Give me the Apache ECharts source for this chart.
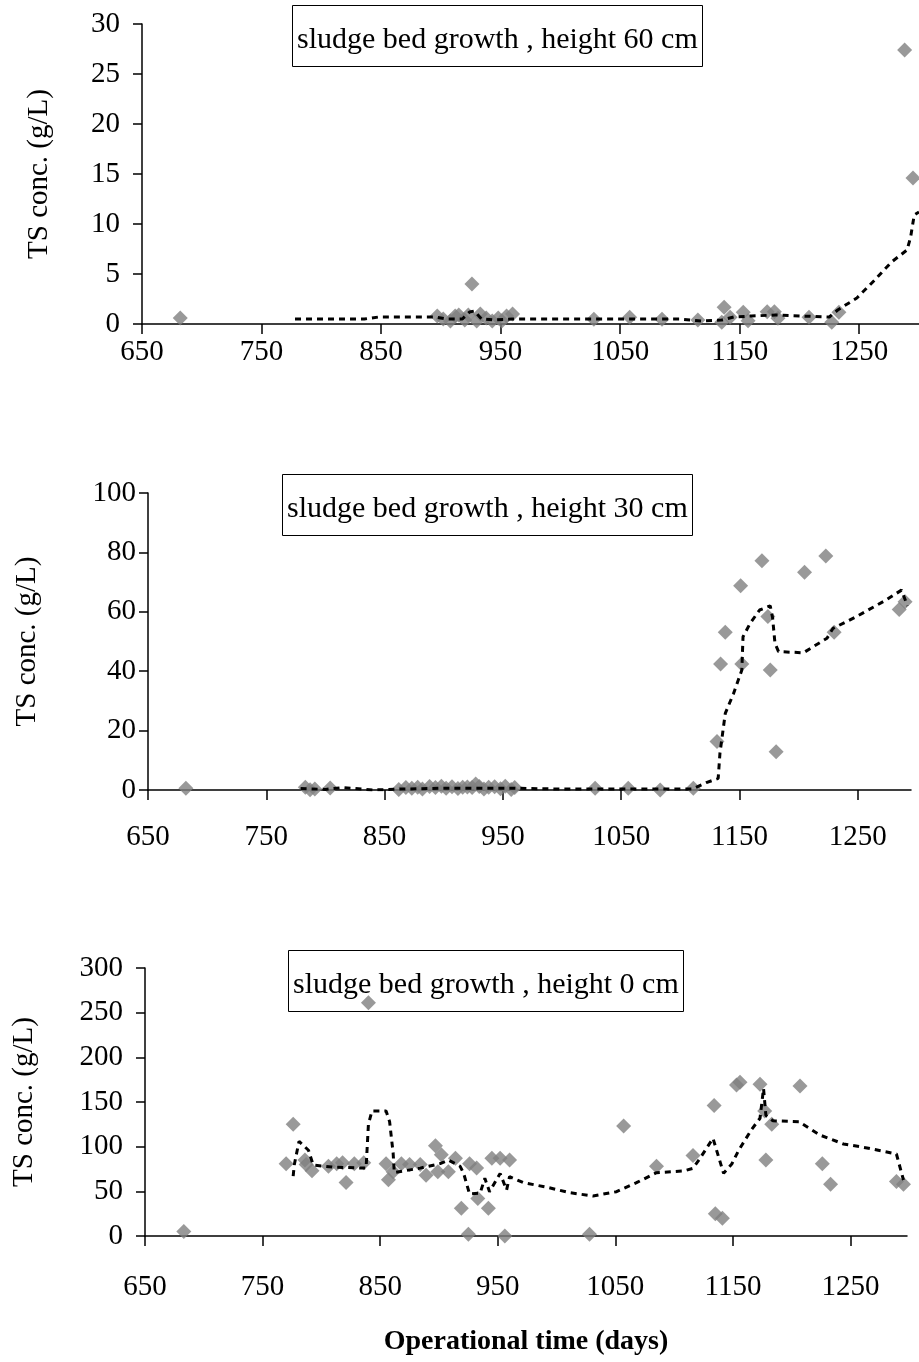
<!DOCTYPE html>
<html>
<head>
<meta charset="utf-8">
<script src="https://cdn.jsdelivr.net/npm/echarts@6/dist/echarts.min.js"></script>
<style>
  html, body { margin: 0; padding: 0; background: #fff; }
  #chart { width: 919px; height: 1362px; }
</style>
</head>
<body>
<div id="chart"></div>
<script>
// tick labels shared by the three panels
var xTicks = [650, 750, 850, 950, 1050, 1150, 1250];

// height 60 cm
var days60 = [682, 897, 902, 908, 912, 915, 920, 923, 926, 930, 933, 938, 943, 948, 951, 955, 960, 1028, 1058, 1085,
  1115, 1135, 1137, 1142, 1153, 1157, 1173, 1179, 1182, 1208, 1227, 1233, 1288, 1295];
var ts60 = [0.6, 0.8, 0.5, 0.3, 0.8, 0.9, 0.4, 0.9, 4.0, 0.3, 1.0, 0.6, 0.3, 0.6, 0.3, 0.8, 1.0, 0.47, 0.67, 0.47,
  0.4, 0.17, 1.67, 0.67, 1.17, 0.33, 1.23, 1.23, 0.57, 0.67, 0.17, 1.17, 27.4, 14.6];
var trendDays60 = [778, 836, 848, 895, 905, 918, 924, 928, 934, 945, 960, 1100, 1118, 1135, 1145, 1160, 1180, 1200,
  1225, 1232, 1248, 1263, 1277, 1290, 1293, 1296, 1300];
var trend60 = [0.5, 0.5, 0.7, 0.7, 0.5, 0.5, 1.2, 1.3, 0.5, 0.4, 0.5, 0.5, 0.3, 0.4, 0.7, 0.8, 0.9, 0.8,
  0.7, 1.4, 2.6, 4.4, 6.2, 7.4, 8.7, 10.9, 11.2];

// height 30 cm
var days30 = [682, 783, 787, 791, 804, 862, 868, 873, 878, 882, 888, 893, 898, 902, 907, 912, 916, 920, 924, 927,
  930, 934, 938, 943, 948, 952, 957, 960, 1028, 1056, 1083, 1111, 1131, 1134, 1138, 1151, 1152, 1169, 1174, 1176,
  1181, 1205, 1223, 1230, 1285, 1290];
var ts30 = [0.6, 0.9, 0.1, 0.3, 0.7, 0.2, 0.8, 0.6, 0.9, 0.3, 1.2, 0.8, 1.3, 0.6, 1.1, 0.5, 0.9, 1.0, 0.8, 2.0,
  1.2, 0.3, 0.9, 1.1, 0.4, 1.3, 0.2, 0.8, 0.6, 0.6, 0.0, 0.6, 16.3, 42.4, 53.1, 68.8, 42.4, 77.2, 58.4, 40.4,
  12.9, 73.3, 78.8, 53.1, 60.8, 63.4];
var trendDays30 = [779, 800, 815, 840, 862, 900, 960, 1000, 1110, 1122, 1132, 1133.5, 1138, 1145, 1152, 1153, 1159,
  1167, 1176, 1178, 1180, 1183, 1204, 1224, 1229, 1249, 1274, 1287, 1292];
var trend30 = [0.5, 0.2, 0.8, 0, 0.3, 0.6, 0.6, 0.3, 0.3, 2.5, 3.9, 12.4, 25.8, 32.5, 40.4, 51.6, 56.1,
  60.6, 62, 58, 49.4, 46.6, 46.2, 51.1, 54.4, 58.4, 64, 67.3, 62];

// height 0 cm
var days0 = [683, 770, 776, 786, 787, 792, 806, 813, 818, 821, 828, 836, 840, 855, 857, 861, 868, 875, 884, 889,
  897, 899, 902, 908, 914, 919, 925, 926, 932, 933, 942, 945, 952, 956, 960, 1028, 1057, 1085, 1116, 1134,
  1135, 1141, 1153, 1156, 1173, 1177, 1178, 1183, 1207, 1226, 1233, 1289, 1295];
var ts0 = [5, 81, 125, 85, 80, 73, 78, 81, 82, 60, 81, 82, 261, 81, 63, 72, 81, 80, 80, 68,
  101, 72, 91, 72, 87, 31, 2, 81, 76, 42, 31, 87, 87, 0, 85, 2, 123, 78, 90, 146,
  25, 20, 169, 172, 170, 140, 85, 125, 168, 81, 58, 61, 58];
var trendDays0 = [776, 777, 781, 789, 793, 810, 838, 840, 843, 855, 858, 861, 862, 884, 901, 908, 918, 921, 926, 935,
  939, 943, 952, 957.5, 960, 972, 992, 1011, 1031, 1051, 1068, 1085, 1108, 1116, 1122, 1133, 1142, 1149, 1155, 1166,
  1173, 1176, 1177, 1178, 1184, 1206, 1224, 1244, 1264, 1289, 1295];
var trend0 = [67, 80, 106, 96, 79.5, 77, 76, 125, 140, 140, 128, 93, 71, 76, 81, 85, 78, 70, 47, 48,
  64.6, 49.5, 70, 51.5, 66.4, 59.7, 54.5, 48.5, 44.8, 49.6, 59.7, 70.9, 72.8, 75.8, 87, 109.4, 70.2, 80.6, 96.3, 119.5,
  131.8, 165, 165, 135, 129, 128, 113, 103, 98.6, 91.8, 62.7];

var panelTitles = ['sludge bed growth , height 60 cm', 'sludge bed growth , height 30 cm', 'sludge bed growth , height 0 cm'];
var yMax = [30, 100, 300];
var yStep = [5, 20, 50];

var serif = 'Liberation Serif';

function zip(xs, ys) {
  return xs.map(function (x, i) { return [x, ys[i]]; });
}

var dom = document.getElementById('chart');
var myChart = echarts.init(dom, null, { renderer: 'canvas' });

// layout of each panel
var panels = [
  { left: 142, top: 24, width: 780, height: 300, xMax: 1300, labelMargin: 14, yMargin: 22, nameGap: 88, box: [292, 5] },
  { left: 148, top: 493, width: 763, height: 297, xMax: 1295, labelMargin: 33, yMargin: 12, nameGap: 106, box: [282, 474] },
  { left: 145, top: 968, width: 762, height: 268, xMax: 1298, labelMargin: 37, yMargin: 22, nameGap: 106, box: [288, 950] }
];

var option = {
  backgroundColor: '#fff',
  animation: false,
  title: [],
  grid: [],
  xAxis: [],
  yAxis: [],
  series: []
};

var scatterSets = [zip(days60, ts60), zip(days30, ts30), zip(days0, ts0)];
var trendSets = [zip(trendDays60, trend60), zip(trendDays30, trend30), zip(trendDays0, trend0)];

function plain(v) {
  return String(v);
}

panels.forEach(function (p, i) {
  option.title.push({
    text: panelTitles[i],
    left: p.box[0],
    top: p.box[1],
    borderColor: '#000',
    borderWidth: 1,
    padding: [20, 5, 12, 5],
    textStyle: { fontFamily: serif, fontSize: 30, fontWeight: 'normal', color: '#000', lineHeight: 30 }
  });
  option.grid.push({ left: p.left, top: p.top, width: p.width, height: p.height });
  option.xAxis.push({
    type: 'value',
    gridIndex: i,
    min: 650,
    max: p.xMax,
    axisLine: { onZero: false, lineStyle: { color: '#000', width: 1.5 } },
    axisTick: { length: 10, lineStyle: { color: '#000', width: 1.5 }, customValues: xTicks },
    axisLabel: { customValues: xTicks, formatter: plain, margin: p.labelMargin, fontFamily: serif, fontSize: 29, color: '#000' },
    splitLine: { show: false },
    name: i === 2 ? 'Operational time (days)' : '',
    nameLocation: 'middle',
    nameGap: 92,
    nameTextStyle: { fontFamily: serif, fontSize: 28, fontWeight: 'bold', color: '#000' }
  });
  option.yAxis.push({
    type: 'value',
    gridIndex: i,
    min: 0,
    max: yMax[i],
    interval: yStep[i],
    axisLine: { show: true, lineStyle: { color: '#000', width: 1.5 } },
    axisTick: { show: true, length: 9, lineStyle: { color: '#000', width: 1.5 } },
    axisLabel: { formatter: plain, margin: p.yMargin, fontFamily: serif, fontSize: 29, color: '#000' },
    splitLine: { show: false },
    name: 'TS conc. (g/L)',
    nameLocation: 'middle',
    nameGap: p.nameGap,
    nameTextStyle: { fontFamily: serif, fontSize: 29, color: '#000' }
  });
  option.series.push({
    type: 'scatter',
    xAxisIndex: i,
    yAxisIndex: i,
    symbol: 'diamond',
    symbolSize: [15, 15],
    itemStyle: { color: '#808080' },
    data: scatterSets[i],
    z: 2
  });
  option.series.push({
    type: 'line',
    xAxisIndex: i,
    yAxisIndex: i,
    showSymbol: false,
    symbol: 'none',
    lineStyle: { color: '#000', width: 3, type: [6, 5] },
    data: trendSets[i],
    z: 3
  });
});

myChart.setOption(option);
</script>
</body>
</html>
